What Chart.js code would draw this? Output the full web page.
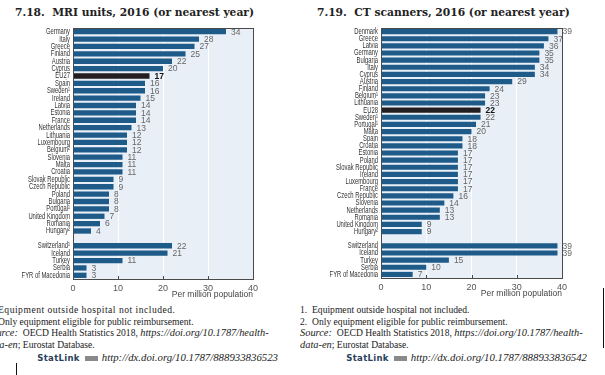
<!DOCTYPE html>
<html>
<head>
<meta charset="utf-8">
<script src="https://cdn.jsdelivr.net/npm/chart.js@4.4.1/dist/chart.umd.min.js"></script>
<style>
  html, body { margin: 0; padding: 0; background: #fff; }
  body { position: relative; width: 605px; height: 375px; overflow: hidden; }
  .title { position: absolute; top: 5px; font: bold 11.9px "DejaVu Serif Condensed", "DejaVu Serif", serif; color: #222; white-space: nowrap; }
  .box { position: absolute; top: 22px; }
  .notes { position: absolute; top: 304px; font: 9.6px "Liberation Serif", serif; color: #222; line-height: 11.7px; white-space: nowrap; }
  .notes i { font-style: italic; font-size: 10.4px; }
  .stat { position: absolute; top: 351px; font: italic 10.8px "Liberation Serif", serif; color: #222; white-space: nowrap; }
  .stat b { font: bold 8.5px "DejaVu Sans", sans-serif; color: #2b3f5c; letter-spacing: 0.3px; font-style: normal; }
  .stat .ico { display: inline-block; width: 13px; height: 5px; background: #8a8a8a; margin: 0 4px 1px 5px; vertical-align: middle; }
  .rule { position: absolute; background: #111; }
</style>
</head>
<body>
<div class="title" style="left:15px">7.18.&nbsp; MRI units, 2016 (or nearest year)</div>
<div class="title" style="left:317px">7.19.&nbsp; CT scanners, 2016 (or nearest year)</div>

<div class="box" style="left:0"><canvas id="mri" width="300" height="280"></canvas></div>
<div class="box" style="left:300px"><canvas id="ct" width="305" height="280"></canvas></div>

<div class="notes" style="left:-14px">
  1.&nbsp; <span style="letter-spacing:0.5px">Equipment outside hospital not included.</span><br>
  2.&nbsp; Only equipment eligible for public reimbursement.<br>
  <i>Source:</i>&nbsp; OECD Health Statistics 2018, <i>https://doi.org/10.1787/health-</i><br>
  <i>data-en</i>; Eurostat Database.
</div>
<div class="notes" style="left:300px">
  1.&nbsp; Equipment outside hospital not included.<br>
  2.&nbsp; Only equipment eligible for public reimbursement.<br>
  <i>Source:</i>&nbsp; OECD Health Statistics 2018, <i>https://doi.org/10.1787/health-</i><br>
  <i>data-en</i>; Eurostat Database.
</div>
<div class="stat" style="right:327px"><b>StatLink</b><span class="ico"></span>http://dx.doi.org/10.1787/888933836523</div>
<div class="stat" style="right:18px"><b>StatLink</b><span class="ico"></span>http://dx.doi.org/10.1787/888933836542</div>
<div class="rule" style="left:603px;top:288px;width:1px;height:60px"></div>
<div class="rule" style="left:16px;top:363px;width:1px;height:12px"></div>

<script>
// MRI units per million population
const mriCountries = ['Germany', 'Italy', 'Greece', 'Finland', 'Austria', 'Cyprus', 'EU27', 'Spain', 'Sweden¹',
  'Ireland', 'Latvia', 'Estonia', 'France', 'Netherlands', 'Lithuania', 'Luxembourg', 'Belgium²', 'Slovenia',
  'Malta', 'Croatia', 'Slovak Republic', 'Czech Republic', 'Poland', 'Bulgaria', 'Portugal¹', 'United Kingdom',
  'Romania', 'Hungary²', '', 'Switzerland¹', 'Iceland', 'Turkey', 'Serbia', 'FYR of Macedonia'];
const mriValues = [34, 28, 27, 25, 22, 20, 17, 16, 16, 15, 14, 14, 14, 13, 12, 12, 12, 11, 11, 11, 9, 9, 8, 8, 8,
  7, 6, 4, null, 22, 21, 11, 3, 3];

// CT scanners per million population
const ctCountries = ['Denmark', 'Greece', 'Latvia', 'Germany', 'Bulgaria', 'Italy', 'Cyprus', 'Austria', 'Finland',
  'Belgium¹', 'Lithuania', 'EU28', 'Sweden¹', 'Portugal¹', 'Malta', 'Spain', 'Croatia', 'Estonia', 'Poland',
  'Slovak Republic', 'Ireland', 'Luxembourg', 'France', 'Czech Republic', 'Slovenia', 'Netherlands', 'Romania',
  'United Kingdom', 'Hungary²', '', 'Switzerland', 'Iceland', 'Turkey', 'Serbia', 'FYR of Macedonia'];
const ctValues = [39, 37, 36, 35, 35, 34, 34, 29, 24, 23, 23, 22, 22, 21, 20, 18, 18, 17, 17, 17, 17, 17, 17, 16,
  14, 13, 13, 9, 9, null, 39, 39, 15, 10, 7];

const axisMax = 40;
const axisStep = 10;

const BLUE = '#1f5b89';
const EU_COLOR = '#231f20';
const isEU = (label) => label.startsWith('EU');
const SANS = '"Liberation Sans", Arial, sans-serif';

// plot panel: tinted background, frame, small inward ticks, value labels,
// and narrow category labels (the source uses a condensed face)
const panel = {
  id: 'panel',
  beforeDraw(chart) {
    const { ctx, chartArea: a } = chart;
    ctx.save();
    ctx.fillStyle = '#e9eff7';
    ctx.fillRect(a.left, a.top, a.right - a.left, a.bottom - a.top);
    ctx.restore();
  },
  afterDatasetsDraw(chart) {
    const { ctx } = chart;
    const labels = chart.data.labels;
    const meta = chart.getDatasetMeta(0);
    ctx.save();
    ctx.textBaseline = 'middle';
    meta.data.forEach((bar, i) => {
      const v = chart.data.datasets[0].data[i];
      if (v === null) return;
      const eu = isEU(labels[i]);
      ctx.font = (eu ? 'bold ' : '') + '8.5px ' + SANS;
      ctx.fillStyle = eu ? '#111' : '#666';
      ctx.fillText(String(v), bar.x + 5, bar.y + 0.5);
    });
    ctx.restore();
  },
  afterDraw(chart) {
    const { ctx, chartArea: a, scales: { x, y } } = chart;
    ctx.save();
    ctx.strokeStyle = '#4a4a4a';
    ctx.lineWidth = 1;
    ctx.strokeRect(Math.round(a.left) + 0.5, Math.round(a.top) + 0.5,
      Math.round(a.right - a.left), Math.round(a.bottom - a.top));
    ctx.beginPath();
    for (let v = axisStep; v < axisMax; v += axisStep) {
      const px = Math.round(x.getPixelForValue(v)) + 0.5;
      ctx.moveTo(px, a.bottom);
      ctx.lineTo(px, a.bottom - 3);
    }
    ctx.stroke();

    // category labels, squeezed horizontally
    ctx.font = '9px ' + SANS;
    ctx.fillStyle = '#333';
    ctx.textAlign = 'right';
    ctx.textBaseline = 'middle';
    y.ticks.forEach((t, i) => {
      const label = y.getLabelForValue(t.value);
      if (!label) return;
      ctx.save();
      ctx.translate(a.left - 3, y.getPixelForTick(i));
      ctx.scale(0.65, 1);
      ctx.fillText(label, 0, 0);
      ctx.restore();
    });
    ctx.restore();
  },
};

function makeChart(id, labels, values, yWidth, padRight, padBottom) {
  return new Chart(document.getElementById(id), {
    type: 'bar',
    data: {
      labels,
      datasets: [{
        data: values,
        backgroundColor: labels.map((l) => (isEU(l) ? EU_COLOR : BLUE)),
        barPercentage: 0.72,
        categoryPercentage: 1,
      }],
    },
    options: {
      indexAxis: 'y',
      responsive: false,
      animation: false,
      layout: { padding: { top: 6, right: padRight, bottom: padBottom, left: 0 } },
      plugins: { legend: { display: false }, tooltip: { enabled: false } },
      scales: {
        x: {
          min: 0,
          max: axisMax,
          ticks: { stepSize: axisStep, padding: 4, color: '#555', font: { size: 9, family: SANS } },
          grid: { color: '#ffffff', drawTicks: false },
          border: { display: false },
          title: {
            display: true,
            text: 'Per million population',
            align: 'end',
            color: '#444',
            font: { size: 8.5, family: SANS },
            padding: { top: 0, bottom: 1 },
          },
          afterFit(scale) { scale.height = 22; },
        },
        y: {
          ticks: { display: false, autoSkip: false },
          grid: { display: false },
          border: { display: false },
          afterFit(scale) { scale.width = yWidth; },
        },
      },
    },
    plugins: [panel],
  });
}

makeChart('mri', mriCountries, mriValues, 73, 47, 1);
makeChart('ct', ctCountries, ctValues, 81, 43, 2);
</script>
</body>
</html>
